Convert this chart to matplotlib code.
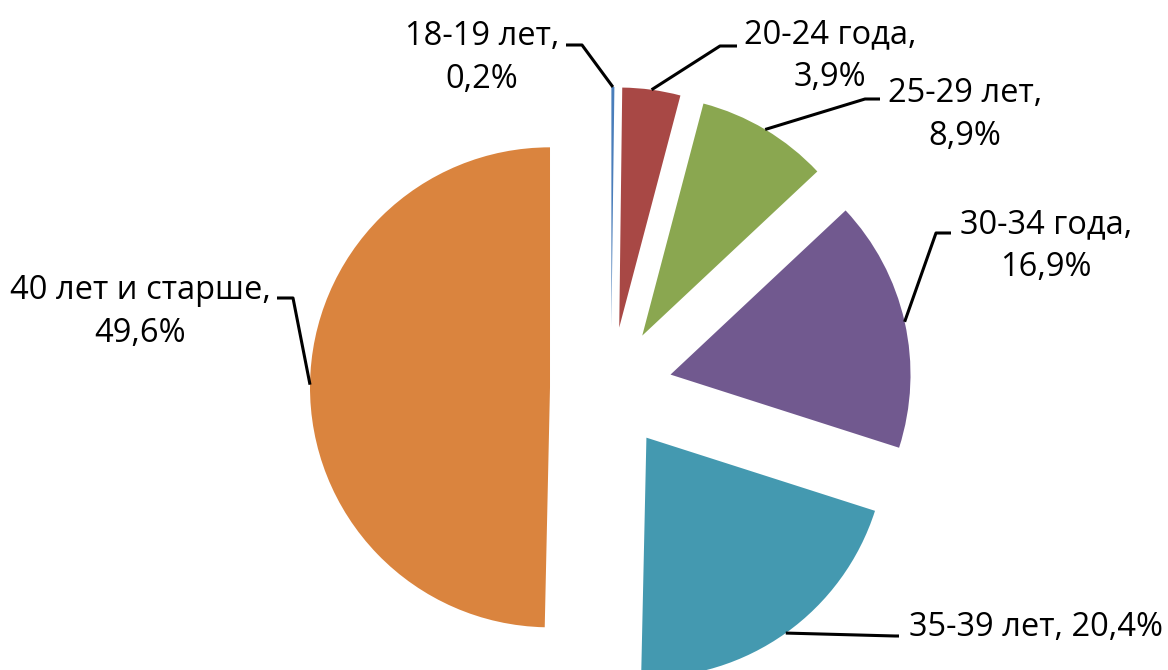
import numpy as np
import matplotlib
matplotlib.use("Agg")
import matplotlib.pyplot as plt

plt.rcParams['font.family'] = ['Open Sans', 'DejaVu Sans']

labels = ["18-19 лет,\n0,2%", "20-24 года,\n3,9%", "25-29 лет,\n8,9%",
          "30-34 года,\n16,9%", "35-39 лет, 20,4%", "40 лет и старше,\n49,6%"]
values = [0.2, 3.9, 8.9, 16.9, 20.4, 49.6]
colors = ["#4A7EBB", "#A84845", "#8AA750", "#71598F", "#4499B0", "#DA843E"]

# label text centre and elbow of the leader line (pixel layout, y from bottom)
text_pos = [(482, 612), (830, 614), (965, 555), (1046, 424), (1036, 43), (140, 358)]
elbows = [[(566, 625), (582, 625)], [(737, 624), (720, 624)], [(880, 571), (865, 571)],
          [(951, 437), (936, 437)], [(899, 34), (895, 34)], [(277, 372), (293, 372)]]

fig = plt.figure(figsize=(11.68, 6.70), dpi=100)
ax = fig.add_axes([0, 0, 1, 1])

R = 240
# explode is in data units here (pixels)
wedges, _ = ax.pie(values, colors=colors, startangle=90, counterclock=False,
                   explode=[61] * len(values), radius=R, center=(611, 282),
                   wedgeprops=dict(linewidth=0))
ax.set_xlim(0, 1168)
ax.set_ylim(0, 670)
ax.set_aspect('equal')
ax.axis('off')

for w, lab, tp, el in zip(wedges, labels, text_pos, elbows):
    mid = np.deg2rad((w.theta1 + w.theta2) / 2)
    cx, cy = w.center
    ax_pt = (cx + R * np.cos(mid), cy + R * np.sin(mid))
    pts = [el[0], el[1], ax_pt]
    ax.plot([p[0] for p in pts], [p[1] for p in pts], color='black', lw=2.2,
            solid_capstyle='butt', zorder=3)
    ax.text(tp[0], tp[1], lab, ha='center', va='center', fontsize=23.5,
            linespacing=1.38, color='black')

fig.savefig("out.png", dpi=100)
